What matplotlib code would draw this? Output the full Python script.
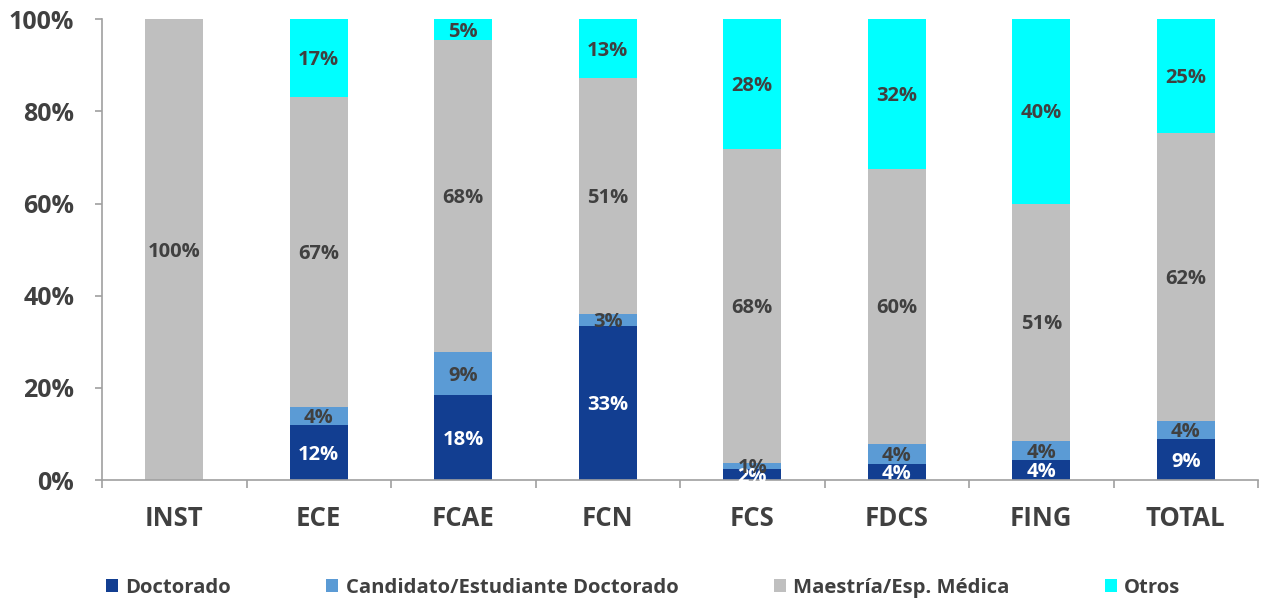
import numpy as np
import matplotlib.pyplot as plt
from matplotlib.patches import Patch

plt.rcParams['font.family'] = ['Open Sans', 'DejaVu Sans']

# data (percent)
categories = ['INST', 'ECE', 'FCAE', 'FCN', 'FCS', 'FDCS', 'FING', 'TOTAL']
doctorado = [0, 11.9, 18.4, 33.4, 2.4, 3.5, 4.3, 8.9]
candidato = [0, 3.9, 9.4, 2.6, 1.4, 4.4, 4.3, 3.9]
maestria = [100, 67.3, 67.6, 51.2, 68.0, 59.7, 51.4, 62.5]
otros = [0, 16.9, 4.6, 12.8, 28.2, 32.4, 40.0, 24.7]
series_names = ['Doctorado', 'Candidato/Estudiante Doctorado',
                'Maestría/Esp. Médica', 'Otros']

colors = ['#123E91', '#5B9BD5', '#BFBFBF', '#00FFFF']
label_colors = ['white', '#404040', '#404040', '#404040']
txt = '#404040'
axcol = '#A0A0A0'

fig = plt.figure(figsize=(12.66, 5.98), dpi=100)
ax = fig.add_axes([0.0806, 0.197, 0.9131, 0.771])

x = np.arange(len(categories))
bottom = np.zeros(len(categories))
for vals, col, lc in zip([doctorado, candidato, maestria, otros], colors, label_colors):
    vals = np.array(vals, dtype=float)
    ax.bar(x, vals, 0.4, bottom=bottom, color=col, zorder=2)
    for xi, b, v in zip(x, bottom, vals):
        if v > 0:
            # labels sit in the middle of each segment, nudged a bit down
            ax.annotate('%d%%' % round(v), (xi, b + v / 2), xytext=(0, -1.5),
                        textcoords='offset points', ha='center', va='center',
                        color=lc, fontsize=14.5, fontweight='bold', zorder=3)
    bottom += vals

ax.set_xlim(-0.5, len(categories) - 0.5)
ax.set_ylim(0, 100)
ax.set_yticks(np.arange(0, 101, 20))
ax.set_yticklabels(['%d%%' % v for v in range(0, 101, 20)])
ax.set_xticks(x)
ax.set_xticklabels(categories)
ax.set_xticks(np.arange(-0.5, len(categories)), minor=True)

for s in ['top', 'right']:
    ax.spines[s].set_visible(False)
for s in ['left', 'bottom']:
    ax.spines[s].set_color(axcol)
    ax.spines[s].set_linewidth(1.2)

ax.tick_params(axis='y', colors=axcol, labelcolor=txt, labelsize=18, length=5,
               width=1.2, pad=15)
ax.tick_params(axis='x', which='major', length=0, labelcolor=txt, labelsize=18.5, pad=18)
ax.tick_params(axis='x', which='minor', colors=axcol, length=6, width=1.2)
for lbl in ax.get_xticklabels() + ax.get_yticklabels():
    lbl.set_fontweight('bold')

handles = [Patch(facecolor=c, edgecolor='none') for c in colors]
fig.legend(handles, series_names, loc='center left', bbox_to_anchor=(0.0837, 0.0167),
           ncol=4, frameon=False, borderpad=0, borderaxespad=0,
           handlelength=0.6, handleheight=0.6,
           handletextpad=0.35, columnspacing=4.7,
           prop={'size': 14.6, 'weight': 'bold'}, labelcolor=txt)

fig.savefig('out.png', dpi=100)
